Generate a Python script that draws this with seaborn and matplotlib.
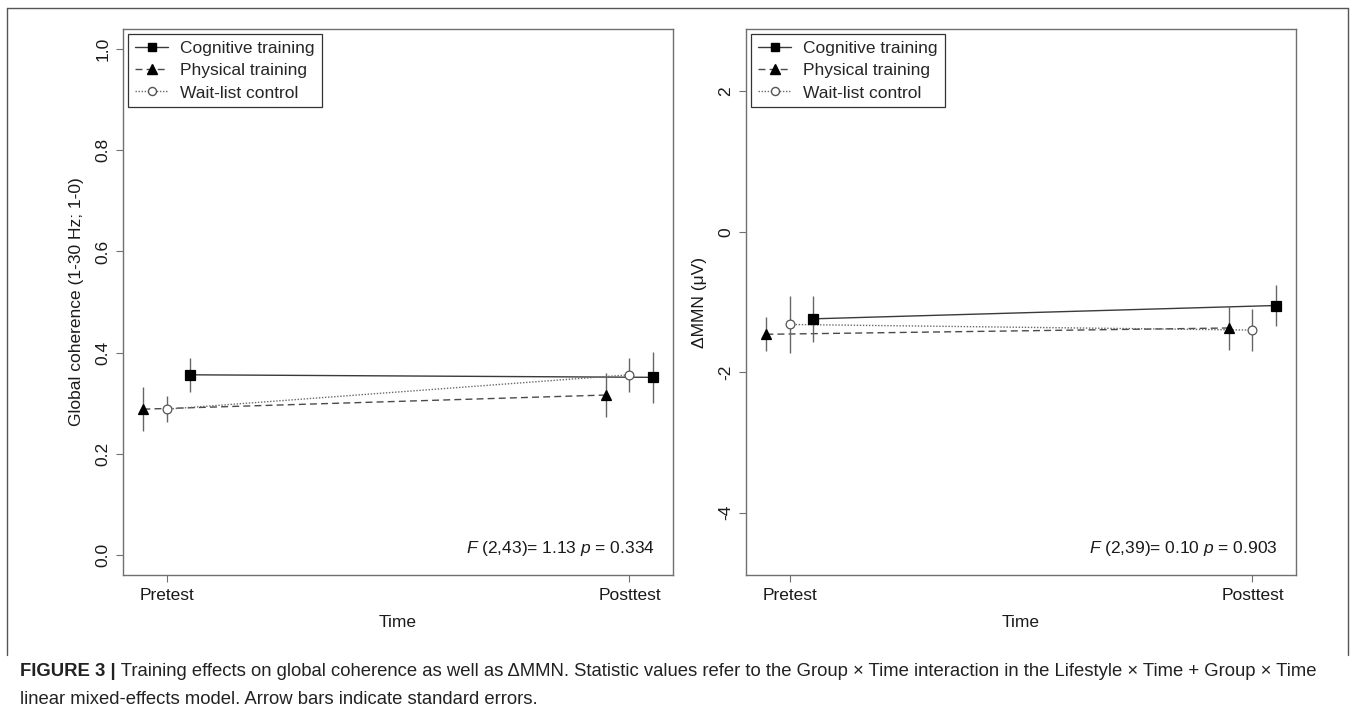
import numpy as np
import pandas as pd
import seaborn as sns
import matplotlib.pyplot as plt
from matplotlib.lines import Line2D

# data (mean and standard error, pretest / posttest)
groups = ["Cognitive training", "Physical training", "Wait-list control"]
times = ["Pretest", "Posttest"]

coh_cog = [0.356, 0.351]
coh_cog_se = [0.034, 0.050]
coh_phy = [0.288, 0.316]
coh_phy_se = [0.044, 0.043]
coh_wlc = [0.288, 0.356]
coh_wlc_se = [0.026, 0.034]

mmn_cog = [-1.24, -1.05]
mmn_cog_se = [0.33, 0.29]
mmn_phy = [-1.46, -1.37]
mmn_phy_se = [0.24, 0.31]
mmn_wlc = [-1.32, -1.40]
mmn_wlc_se = [0.40, 0.30]

stats_text = [r"$\mathit{F}$ (2,43)= 1.13 $\mathit{p}$ = 0.334",
              r"$\mathit{F}$ (2,39)= 0.10 $\mathit{p}$ = 0.903"]

rows = []
for panel, series in [("coh", [(coh_cog, coh_cog_se), (coh_phy, coh_phy_se), (coh_wlc, coh_wlc_se)]),
                      ("mmn", [(mmn_cog, mmn_cog_se), (mmn_phy, mmn_phy_se), (mmn_wlc, mmn_wlc_se)])]:
    for g, (m, s) in zip(groups, series):
        for t in range(2):
            rows.append(dict(panel=panel, group=g, time=t + 1, mean=m[t], se=s[t]))
df = pd.DataFrame(rows)

sns.set_theme(style="white")
plt.rcParams["font.family"] = ["Liberation Sans", "DejaVu Sans"]
plt.rcParams["mathtext.fontset"] = "custom"
plt.rcParams["mathtext.rm"] = "Liberation Sans"
plt.rcParams["mathtext.it"] = "Liberation Sans:italic"

# dodge so the three groups don't overlap
offset = {"Cognitive training": 0.05, "Physical training": -0.05, "Wait-list control": 0.0}
df["x"] = df["time"] + df["group"].map(offset)

styles = {
    "Cognitive training": dict(ls="-", lc="#3a3a3a", marker="s", ms=6.5, mfc="black", mec="black"),
    "Physical training": dict(ls=(0, (5, 3)), lc="#4a4a4a", marker="^", ms=7.5, mfc="black", mec="black"),
    "Wait-list control": dict(ls=(0, (1, 1.2)), lc="#6a6a6a", marker="o", ms=6.3, mfc="white", mec="#555555"),
}

fig = plt.figure(figsize=(13.55, 7.14), dpi=100)
W, H = 1355, 714
box_top, box_bot = 29, 575
ax1 = fig.add_axes([123 / W, (H - box_bot) / H, 550 / W, (box_bot - box_top) / H])
ax2 = fig.add_axes([746 / W, (H - box_bot) / H, 550 / W, (box_bot - box_top) / H])

fs = 12.5
gray = "#707070"
for ax, panel, ylab, ylim, yticks, fmt, txt in [
    (ax1, "coh", "Global coherence (1-30 Hz; 1-0)", (-0.04, 1.04), np.arange(0, 1.01, 0.2), "{:.1f}", stats_text[0]),
    (ax2, "mmn", "\u0394MMN (\u03bcV)", (-4.888, 2.888), [-4, -2, 0, 2], "{:d}", stats_text[1]),
]:
    d_all = df[df.panel == panel]
    for g in groups:
        st = styles[g]
        d = d_all[d_all.group == g]
        sns.lineplot(data=d, x="x", y="mean", ax=ax, color=st["lc"], linestyle=st["ls"],
                     linewidth=1.0, estimator=None, sort=True, legend=False)
        ax.errorbar(d["x"], d["mean"], yerr=d["se"], fmt="none", ecolor="#666666",
                    elinewidth=1.0, capsize=0, zorder=3)
        ax.plot(d["x"], d["mean"], linestyle="none", marker=st["marker"], markersize=st["ms"],
                markerfacecolor=st["mfc"], markeredgecolor=st["mec"], markeredgewidth=0.9, zorder=4)

    ax.set_xlim(0.906, 2.094)
    ax.set_ylim(*ylim)
    ax.set_xticks([1, 2])
    ax.set_xticklabels(times, fontsize=fs, color="#1a1a1a")
    ax.set_yticks(yticks)
    ax.set_yticklabels([fmt.format(int(v)) if fmt == "{:d}" else fmt.format(v) for v in yticks],
                       fontsize=fs, color="#1a1a1a", rotation=90, va="center")
    ax.tick_params(axis="both", direction="out", length=5, width=0.8, color=gray,
                   bottom=True, left=True, pad=4)
    ax.set_xlabel("Time", fontsize=fs, color="#1a1a1a", labelpad=9)
    ax.set_ylabel(ylab, fontsize=fs, color="#1a1a1a", labelpad=8)
    for sp in ax.spines.values():
        sp.set_color(gray)
        sp.set_linewidth(1.0)
    ax.text(0.967, 0.049, txt, transform=ax.transAxes, ha="right", va="center",
            fontsize=fs, color="#1a1a1a")

    handles = [Line2D([], [], color=styles[g]["lc"], linestyle=styles[g]["ls"], linewidth=1.0,
                      marker=styles[g]["marker"], markersize=styles[g]["ms"] - 0.5,
                      markerfacecolor=styles[g]["mfc"], markeredgecolor=styles[g]["mec"])
               for g in groups]
    leg = ax.legend(handles, groups, loc="upper left", bbox_to_anchor=(0, 1), fontsize=fs,
                    frameon=True, fancybox=False, framealpha=1, edgecolor="#333333",
                    borderaxespad=0.3, handlelength=1.9, labelspacing=0.4, borderpad=0.4,
                    handletextpad=0.7)
    leg.get_frame().set_linewidth(0.9)

# outer frame of the figure panel
frame_kw = dict(color="#555555", linewidth=1.0, transform=fig.transFigure)
fig.add_artist(Line2D([7 / W, 7 / W], [1 - 655 / H, 1 - 8 / H], **frame_kw))
fig.add_artist(Line2D([1348 / W, 1348 / W], [1 - 655 / H, 1 - 8 / H], **frame_kw))
fig.add_artist(Line2D([7 / W, 1348 / W], [1 - 8 / H, 1 - 8 / H], **frame_kw))

# caption
cap_bold = "FIGURE 3 |"
cap1 = (" Training effects on global coherence as well as \u0394MMN. Statistic values refer to the Group "
        "\u00d7 Time interaction in the Lifestyle \u00d7 Time + Group \u00d7 Time")
cap2 = "linear mixed-effects model. Arrow bars indicate standard errors."
fig.canvas.draw()
r = fig.canvas.get_renderer()
cfs = 12
tb = fig.text(20 / W, 1 - 672 / H, cap_bold, fontsize=cfs, fontweight="bold", va="center", color="#222222")
t1 = fig.text(0, 1 - 672 / H, cap1, fontsize=cfs, va="center", color="#222222")
wb = tb.get_window_extent(r).width
w1 = t1.get_window_extent(r).width
scale = (1325 - 20) / (wb + w1)
cfs = cfs * scale
tb.set_fontsize(cfs)
t1.set_fontsize(cfs)
wb = tb.get_window_extent(r).width
t1.set_x((20 + wb) / W)
fig.text(20 / W, 1 - 700 / H, cap2, fontsize=cfs, va="center", color="#222222")

fig.savefig("out.png", dpi=100)
